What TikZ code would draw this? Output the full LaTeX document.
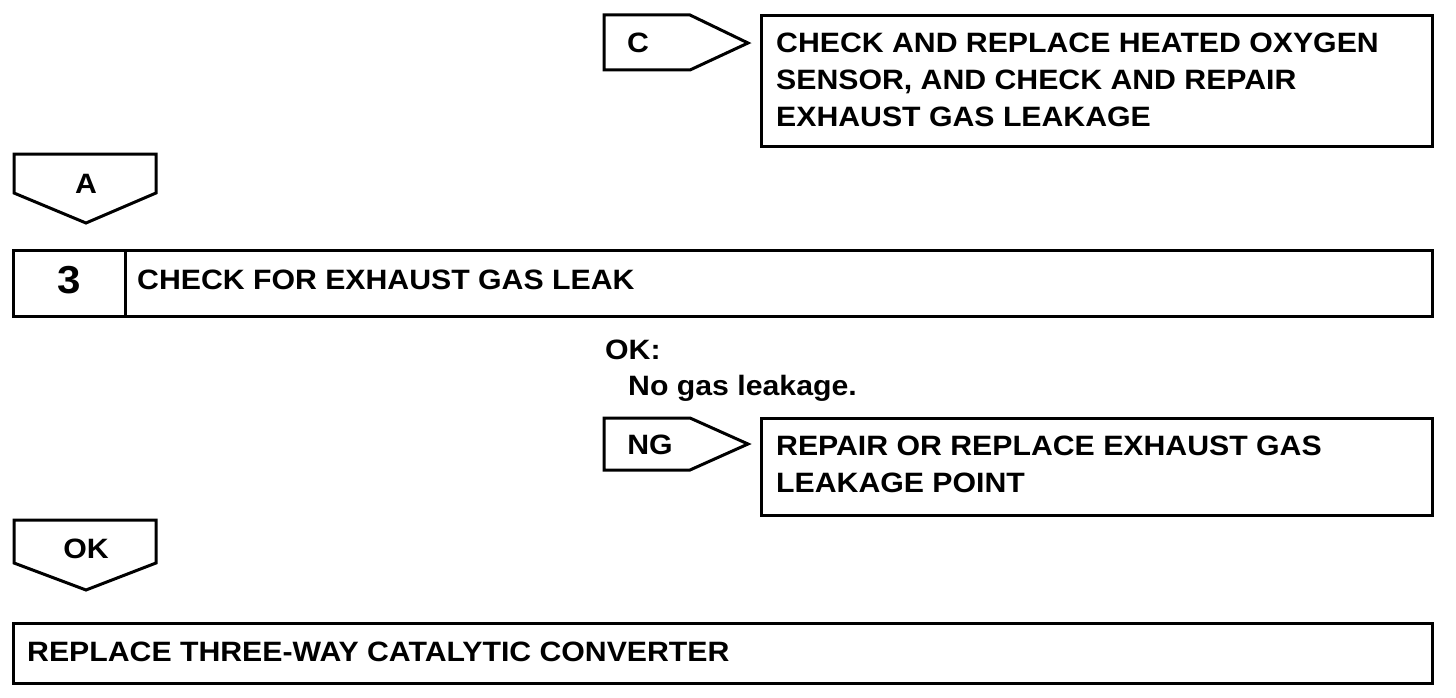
\documentclass[tikz,border=0pt]{standalone}
\usepackage{fontspec}
\setmainfont{Liberation Sans}[FakeStretch=1.08]
\begin{document}
\begin{tikzpicture}[x=1pt,y=-1pt,
  outline/.style={draw=black,line width=3pt,line join=miter},
  txt/.style={inner sep=0pt,anchor=base west,font=\fontsize{28}{37}\selectfont\bfseries},
  lbl/.style={inner sep=0pt,anchor=base,font=\fontsize{28}{37}\selectfont\bfseries}]
\useasboundingbox (0,0) rectangle (1456,698);
\fill[white] (0,0) rectangle (1456,698);
% C branch
\draw[outline] (604,15) -- (690,15) -- (748,43) -- (690,70) -- (604,70) -- cycle;
\node[lbl] (c) at (638,53) {C};
\draw[outline] (761,16) rectangle (1432,147);
\node[txt] (ct1) at (776,53) {CHECK AND REPLACE HEATED OXYGEN};
\node[txt] (ct2) at (776,90) {SENSOR, AND CHECK AND REPAIR};
\node[txt] (ct3) at (776,127) {EXHAUST GAS LEAKAGE};
% A
\draw[outline] (14,154) -- (156,154) -- (156,193) -- (86,223) -- (14,193) -- cycle;
\node[lbl] (a) at (86,193) {A};
% step 3
\draw[outline] (13,250) rectangle (1432,316);
\draw[outline] (125,250) -- (125,316);
\node[inner sep=0pt,anchor=base,font=\fontsize{39}{44}\selectfont\bfseries] (n3) at (69,293) {3};
\node[txt] (s3) at (137,289) {CHECK FOR EXHAUST GAS LEAK};
% OK condition
\node[txt] (okc) at (605,359) {OK:};
\node[txt] (okd) at (628,395) {No gas leakage.};
% NG branch
\draw[outline] (604,418) -- (690,418) -- (748,444) -- (690,470) -- (604,470) -- cycle;
\node[lbl] (ng) at (650,454) {NG};
\draw[outline] (761,418) rectangle (1432,515);
\node[txt] (ng1) at (776,455) {REPAIR OR REPLACE EXHAUST GAS};
\node[txt] (ng2) at (776,492) {LEAKAGE POINT};
% OK
\draw[outline] (14,520) -- (156,520) -- (156,563) -- (86,590) -- (14,563) -- cycle;
\node[lbl] (ok) at (86,558) {OK};
% final
\draw[outline] (13,623) rectangle (1432,683);
\node[txt] (fin) at (27,661) {REPLACE THREE-WAY CATALYTIC CONVERTER};
\end{tikzpicture}
\end{document}
